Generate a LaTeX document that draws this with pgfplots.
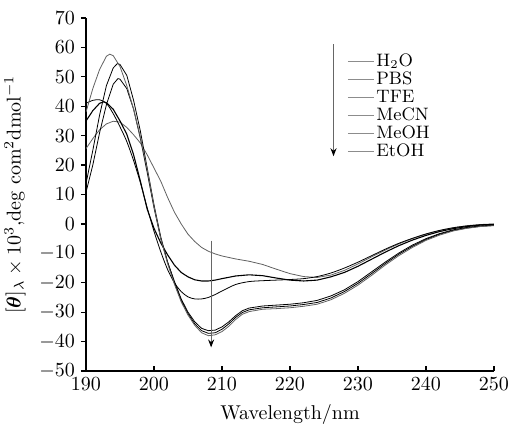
\documentclass[border=0pt]{standalone}
\usepackage{pgfplots}
\usepackage{bm}
\usetikzlibrary{arrows.meta}
\pgfplotsset{compat=1.18}
\begin{document}
\begin{tikzpicture}
\begin{axis}[
  scale only axis, width=204pt, height=176.5pt,
  xmin=190, xmax=250, ymin=-50, ymax=70,
  axis x line=bottom, axis y line=left,
  axis line style={-, line width=0.6pt},
  xtick={190,200,...,250}, ytick={-50,-40,...,70},
  tick align=inside, major tick length=2.5pt,
  y tick style={xshift=-2.5pt},
  yticklabel style={xshift=-2pt},
  tick style={black, line width=0.6pt},
  xlabel={Wavelength/nm},
  ylabel={$[\bm{\theta}]_\lambda\times10^3$,deg com$^2$dmol$^{-1}$},
  cycle list={{black!62, line width=0.55pt, smooth, tension=0.4, mark=none}},
  legend image code/.code={\draw[black!45, line width=0.5pt] (0pt,0pt) -- (13pt,0pt);},
  legend style={at={(axis cs:227.5,60)}, anchor=north west, draw=none, fill=none,
    font=\small, row sep=-0.8pt, nodes={inner sep=1pt}},
  legend cell align=left,
]
% H2O
\addplot coordinates {(190,25.6)(191,29)(192,32)(193,34)(194,34.9)(195,34.6)(196,32.8)(197,30.3)(198,27.5)(199,23.5)(200,19)(201,14.5)(202,9)(203,4)(204,0)(205,-3.5)(206,-6)(207,-8)(208,-9.3)(209,-10.2)(210,-10.9)(212,-11.9)(214,-12.7)(216,-13.8)(218,-15.4)(220,-16.9)(222,-17.9)(224,-18.2)(226,-17.4)(228,-15.8)(230,-13.6)(232,-11.2)(234,-8.9)(236,-6.8)(238,-5)(240,-3.5)(242,-2.3)(244,-1.3)(246,-0.6)(248,-0.2)(250,0)};
\addlegendentry{H$_2$O}
% PBS
\addplot coordinates {(190,35)(191,38.5)(192,41)(192.6,41.5)(193,41.2)(194,39)(195,35)(196,30.5)(197,23.5)(198,14.5)(199,5)(200,-1.5)(201,-6.5)(202,-10.5)(203,-14)(204,-16.5)(205,-18)(206,-19)(207,-19.4)(208,-19.4)(209,-19.1)(210,-18.6)(212,-17.7)(214,-17.3)(216,-17.6)(218,-18.4)(220,-19.1)(222,-19.4)(224,-19.1)(226,-18)(228,-16.5)(230,-14.4)(232,-12)(234,-9.6)(236,-7.4)(238,-5.5)(240,-3.9)(242,-2.6)(244,-1.6)(246,-0.9)(248,-0.4)(250,-0.2)};
\addlegendentry{PBS}
% TFE
\addplot coordinates {(190,41)(191,42)(192,42.2)(193,41)(194,37.5)(195,33)(196,28)(197,21.5)(198,14)(199,5.5)(200,-2.5)(201,-9.5)(202,-15.5)(203,-20)(204,-23)(205,-24.8)(206,-25.5)(207,-25.5)(208,-25)(209,-24)(210,-22.8)(212,-20.6)(214,-19.6)(216,-19.3)(218,-19.1)(220,-18.9)(222,-18.6)(224,-17.9)(226,-16.7)(228,-15)(230,-13)(232,-10.8)(234,-8.6)(236,-6.6)(238,-4.9)(240,-3.4)(242,-2.2)(244,-1.3)(246,-0.7)(248,-0.3)(250,-0.1)};
\addlegendentry{TFE}
% MeCN
\addplot coordinates {(190,10.8)(191,20)(192,31)(193,40.5)(194,47.5)(194.7,49.4)(195,49.2)(196,46)(197,39)(198,29)(199,17.5)(200,5.5)(201,-5)(202,-13)(203,-19.5)(204,-25.5)(205,-30)(206,-33.3)(207,-35.5)(208,-36.3)(209,-36.1)(210,-35)(211,-33.3)(212,-31.2)(213,-29.5)(214,-28.6)(216,-27.9)(218,-27.6)(220,-27.3)(222,-26.8)(224,-26)(226,-24.5)(228,-22.4)(230,-19.6)(232,-16.3)(234,-13)(236,-9.9)(238,-7.2)(240,-5)(242,-3.3)(244,-2)(246,-1.2)(248,-0.7)(250,-0.4)};
\addlegendentry{MeCN}
% MeOH
\addplot coordinates {(190,13.7)(191,25)(192,37)(193,47)(194,53)(194.6,54.5)(195,54.2)(196,50.5)(197,42)(198,31.5)(199,19)(200,6.5)(201,-4.5)(202,-13)(203,-20)(204,-26)(205,-30.5)(206,-34)(207,-36.3)(208,-37.2)(209,-37)(210,-35.8)(211,-34)(212,-31.8)(213,-30.1)(214,-29.2)(216,-28.5)(218,-28.2)(220,-27.9)(222,-27.4)(224,-26.7)(226,-25.2)(228,-23)(230,-20.2)(232,-16.9)(234,-13.5)(236,-10.3)(238,-7.6)(240,-5.3)(242,-3.5)(244,-2.2)(246,-1.4)(248,-0.8)(250,-0.5)};
\addlegendentry{MeOH}
% EtOH
\addplot coordinates {(190,38)(191,46)(192,52.5)(193,57)(193.5,57.7)(194,57.2)(195,53.5)(196,47)(197,39)(198,29.5)(199,18.5)(200,6)(201,-5)(202,-13.5)(203,-20.5)(204,-26.5)(205,-31)(206,-34.5)(207,-37)(208,-38)(209,-37.7)(210,-36.6)(211,-34.8)(212,-32.5)(213,-30.7)(214,-29.8)(216,-29)(218,-28.8)(220,-28.5)(222,-28)(224,-27.3)(226,-25.8)(228,-23.6)(230,-20.8)(232,-17.5)(234,-14)(236,-10.8)(238,-8)(240,-5.6)(242,-3.8)(244,-2.4)(246,-1.5)(248,-0.9)(250,-0.6)};
\addlegendentry{EtOH}
\draw[black!60, line width=0.6pt, -{Stealth[length=4pt,width=3pt,color=black]}] (axis cs:226.4,61) -- (axis cs:226.4,23);
\draw[black!60, line width=0.6pt, -{Stealth[length=4pt,width=3pt,color=black]}] (axis cs:208.4,-5.7) -- (axis cs:208.4,-42);
\end{axis}
\pgfresetboundingbox
\useasboundingbox (-43pt,-28.5pt) rectangle (211.5pt,185.5pt);
\end{tikzpicture}
\end{document}
